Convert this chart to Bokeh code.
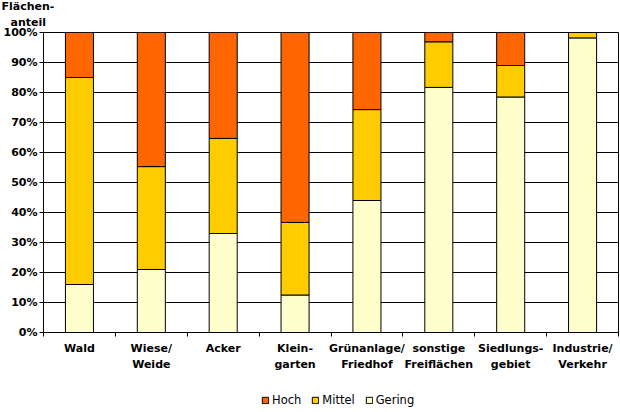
from bokeh.plotting import figure
from bokeh.models import (Range1d, FixedTicker, Legend, LegendItem, Title)
from bokeh.layouts import column
from bokeh.embed import file_html
from bokeh.resources import INLINE

categories = ["Wald", "Wiese/\nWeide", "Acker", "Klein-\ngarten", "Grünanlage/\nFriedhof",
              "sonstige\nFreiflächen", "Siedlungs-\ngebiet", "Industrie/\nVerkehr"]
gering = [16, 21, 33, 12.5, 44, 81.7, 78.5, 98.2]
mittel = [69, 34.3, 31.7, 24.2, 30.3, 15.2, 10.5, 1.8]
hoch = [15, 44.7, 35.3, 63.3, 25.7, 3.1, 11, 0]
series = ["Gering", "Mittel", "Hoch"]
colors = ["#FFFFCC", "#FFCC00", "#FF6600"]
y_ticks = list(range(0, 101, 10))

xpos = [i + 0.5 for i in range(len(categories))]
data = dict(x=xpos, Gering=gering, Mittel=mittel, Hoch=hoch)

FONT = "DejaVu Sans"

# ---- main chart ----
p = figure(width=620, height=380, output_backend="svg", toolbar_location=None,
           x_range=Range1d(0, len(categories)), y_range=Range1d(0, 100),
           min_border_left=43, min_border_right=2, min_border_top=30, min_border_bottom=48)

rs = p.vbar_stack(series, x="x", width=0.39, source=data,
                  color=colors, line_color="black", line_width=1)

# y-axis title above the axis (two lines)
p.add_layout(Title(text="anteil", align="left", offset=-33, standoff=8,
                   text_font=FONT, text_font_style="bold", text_font_size="11px",
                   text_color="black"), "above")
p.add_layout(Title(text="Flächen-", align="left", offset=-42, standoff=-6,
                   text_font=FONT, text_font_style="bold", text_font_size="11px",
                   text_color="black"), "above")

p.yaxis.ticker = FixedTicker(ticks=y_ticks)
p.yaxis.major_label_overrides = {t: f"{t}%" for t in y_ticks}
p.yaxis.major_label_text_font = FONT
p.yaxis.major_label_text_font_style = "bold"
p.yaxis.major_label_text_font_size = "11px"
p.yaxis.major_label_text_color = "black"
p.yaxis.major_tick_in = 0
p.yaxis.major_tick_out = 4
p.yaxis.minor_tick_line_color = None
p.yaxis.axis_line_color = "black"
p.yaxis.major_tick_line_color = "black"
p.yaxis.major_label_standoff = 2

p.xaxis.ticker = FixedTicker(ticks=xpos, minor_ticks=list(range(len(categories) + 1)))
p.xaxis.major_label_overrides = {x: c for x, c in zip(xpos, categories)}
p.xaxis.major_label_text_font = FONT
p.xaxis.major_label_text_font_style = "bold"
p.xaxis.major_label_text_font_size = "11px"
p.xaxis.major_label_text_color = "black"
p.xaxis.major_label_text_line_height = 1.3
p.xaxis.major_tick_line_color = None
p.xaxis.minor_tick_in = 0
p.xaxis.minor_tick_out = 4
p.xaxis.minor_tick_line_color = "black"
p.xaxis.axis_line_color = "black"
p.xaxis.major_label_standoff = 3

p.xgrid.grid_line_color = None
p.ygrid.grid_line_color = "black"
p.ygrid.grid_line_alpha = 1
p.ygrid.ticker = FixedTicker(ticks=y_ticks)
p.outline_line_color = "black"
p.outline_line_alpha = 1

# ---- legend strip (same stack, drawn out of view, only for the legend glyphs) ----
lg = figure(width=620, height=32, output_backend="svg", toolbar_location=None,
            x_range=Range1d(0, len(categories)), y_range=Range1d(200, 300),
            min_border=0, x_axis_location=None, y_axis_location=None,
            outline_line_color=None)
lg.grid.visible = False
lrs = lg.vbar_stack(series, x="x", width=0.39, source=data,
                    color=colors, line_color="black", line_width=1)

legend = Legend(items=[LegendItem(label="Hoch", renderers=[lrs[2]]),
                       LegendItem(label="Mittel", renderers=[lrs[1]]),
                       LegendItem(label="Gering", renderers=[lrs[0]])],
                orientation="horizontal", location=(218, 5),
                label_text_font=FONT, label_text_font_size="11.5px",
                label_text_color="black",
                glyph_width=8, glyph_height=8, label_standoff=3, spacing=10,
                border_line_color=None, background_fill_alpha=0, padding=0, margin=0)
lg.add_layout(legend, "center")

layout = column(p, lg, spacing=0)
open("out.html", "w").write(file_html(layout, INLINE))
